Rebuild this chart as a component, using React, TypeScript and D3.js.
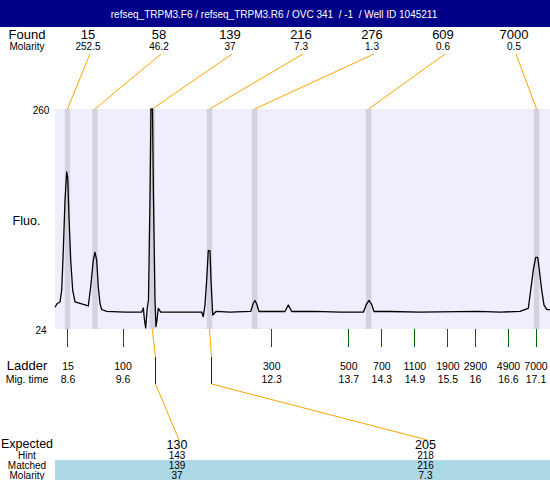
import React from "react";
import * as d3 from "d3";

const W = 550;
const H = 480;

const titleText = "refseq_TRPM3.F6 / refseq_TRPM3.R6 / OVC 341  / -1  / Well ID 1045211";

// Found peaks
const foundSizes = [15, 58, 139, 216, 276, 609, 7000];
const foundMolarity = [252.5, 46.2, 37, 7.3, 1.3, 0.6, 0.5];
const foundTimes = [8.59, 9.09, 10.13, 11.17, 11.99, 14.06, 17.11];

// Ladder
const ladderSizes = [15, 100, 300, 500, 700, 1100, 1900, 2900, 4900, 7000];
const ladderTimes = [8.6, 9.6, 12.3, 13.7, 14.3, 14.9, 15.5, 16, 16.6, 17.1];

// Expected table
const expectedSizes = [130, 205];
const hintSizes = [143, 218];
const matchedSizes = [139, 216];
const matchedMolarity = [37, 7.3];
const matchedTimes = [10.13, 11.17];
const hintTimes = [10.19, 11.2];

// Axes
const timeDomain = [8.364, 17.354];
const fluoDomain = [24, 260];

// Electropherogram trace
const traceTime = [
  8.364, 8.406, 8.455, 8.486, 8.515, 8.546, 8.576, 8.595, 8.618, 8.649,
  8.685, 8.727, 8.818, 8.969, 9.012, 9.06, 9.09, 9.121, 9.15, 9.181,
  9.212, 9.303, 9.635, 9.939, 9.968, 9.989, 10.011, 10.04, 10.062, 10.089,
  10.107, 10.135, 10.153, 10.18, 10.198, 10.216, 10.24, 10.284, 10.634, 11.028,
  11.057, 11.088, 11.119, 11.148, 11.179, 11.197, 11.228, 11.288, 11.542, 11.918,
  11.965, 11.996, 12.027, 12.069, 12.3, 12.541, 12.601, 12.663, 13.086, 13.54,
  13.967, 14.021, 14.067, 14.112, 14.158, 14.448, 14.993, 16.046, 16.446, 16.809,
  16.882, 16.96, 17.004, 17.051, 17.094, 17.131, 17.16, 17.203, 17.245, 17.294,
  17.354,
];
const traceFluo = [
  47.3, 51.4, 53.0, 65.8, 108.7, 162.4, 192.4, 186.0, 144.1, 98.0,
  65.8, 53.0, 51.4, 48.7, 69.1, 98.0, 106.3, 98.0, 69.1, 51.4,
  44.9, 42.8, 42.2, 42.2, 46.5, 33.7, 25.1, 46.5, 55.1, 162.4,
  260, 260, 162.4, 55.1, 26.5, 33.7, 46.2, 42.2, 42.2, 42.2,
  37.2, 49.7, 76.6, 108.0, 108.0, 76.6, 39.0, 42.8, 42.2, 42.8,
  51.6, 54.6, 50.8, 42.8, 42.8, 42.8, 49.7, 42.8, 42.8, 42.2,
  42.2, 50.8, 54.6, 50.8, 42.8, 42.8, 42.2, 43.0, 42.2, 42.8,
  44.4, 46.2, 65.8, 87.3, 100.9, 100.9, 87.3, 65.8, 49.7, 45.1,
  44.4,
];

const FONT = "'Liberation Sans', Arial, sans-serif";
const PLOT_L = 55;
const PLOT_R = 550;
const PLOT_T = 109;
const PLOT_B = 329;
const LABEL_X = 27;
const ORANGE = "#FFA500";

export default function App() {
  const x = d3.scaleLinear().domain(timeDomain).range([PLOT_L, PLOT_R]);
  const y = d3.scaleLinear().domain(fluoDomain).range([PLOT_B, PLOT_T]);
  const line = d3
    .line<number>()
    .x((_, i) => x(traceTime[i]))
    .y((_, i) => y(traceFluo[i]));
  const tracePath = line(traceTime) || "";
  const px = (v: number) => Math.floor(v) + 0.5;

  const foundCol = d3.scaleLinear().domain([0, 1]).range([88, 159]);
  const expCol = d3.scaleLinear().domain([0, 1]).range([177, 425.5]);
  const bandW = 5.5;

  return (
    <svg
      width={W}
      height={H}
      style={{ position: "absolute", left: 0, top: 0, display: "block", background: "#fff" }}
      fontFamily={FONT}
    >
      {/* Title bar */}
      <rect x={0} y={0} width={W} height={27} fill="#000088" />
      <text x={274} y={17.5} fill="#fff" fontSize={10} textAnchor="middle" style={{ whiteSpace: "pre" }}>
        {titleText}
      </text>

      {/* Found row */}
      <text x={LABEL_X} y={39} fontSize={13} textAnchor="middle">Found</text>
      <text x={LABEL_X} y={50} fontSize={10} textAnchor="middle">Molarity</text>
      {foundSizes.map((s, i) => (
        <g key={"f" + i}>
          <text x={foundCol(i)} y={39} fontSize={13} textAnchor="middle">{s}</text>
          <text x={foundCol(i)} y={50} fontSize={10} textAnchor="middle">{String(foundMolarity[i])}</text>
          <line
            x1={foundCol(i) + 2}
            y1={54}
            x2={x(foundTimes[i])}
            y2={PLOT_T}
            stroke={ORANGE}
            strokeWidth={1}
          />
        </g>
      ))}

      {/* Plot area */}
      <rect x={PLOT_L} y={PLOT_T} width={PLOT_R - PLOT_L} height={PLOT_B - PLOT_T} fill="#EEEEFC" />
      {foundTimes.map((t, i) => (
        <rect
          key={"b" + i}
          x={x(t) - bandW / 2}
          y={PLOT_T}
          width={bandW}
          height={PLOT_B - PLOT_T}
          fill="#D3D3E0"
        />
      ))}
      <path d={tracePath} fill="none" stroke="#000" strokeWidth={1.3} strokeLinejoin="round" />

      {/* Y labels */}
      <text x={41} y={113.5} fontSize={10} textAnchor="middle">{fluoDomain[1]}</text>
      <text x={41} y={333.5} fontSize={10} textAnchor="middle">{fluoDomain[0]}</text>
      <text x={26.5} y={225} fontSize={12.5} textAnchor="middle">Fluo.</text>

      {/* Ladder ticks */}
      {ladderTimes.map((t, i) => (
        <g key={"l" + i}>
          <line x1={px(x(t))} y1={PLOT_B} x2={px(x(t))} y2={347} stroke="#006800" strokeWidth={1} />
          <text x={x(t)} y={369.5} fontSize={10.5} textAnchor="middle">{ladderSizes[i]}</text>
          <text x={x(t)} y={383} fontSize={10.5} textAnchor="middle">{String(t)}</text>
        </g>
      ))}
      <text x={LABEL_X} y={370} fontSize={13} textAnchor="middle">Ladder</text>
      <text x={LABEL_X} y={382.5} fontSize={10.5} textAnchor="middle">Mig. time</text>

      {/* Matched connectors */}
      {matchedTimes.map((t, i) => (
        <g key={"m" + i}>
          <line x1={x(t)} y1={PLOT_B} x2={px(x(hintTimes[i]))} y2={357} stroke={ORANGE} strokeWidth={1} />
          <line
            x1={px(x(hintTimes[i]))}
            y1={357}
            x2={px(x(hintTimes[i]))}
            y2={384}
            stroke="#0000FF"
            strokeWidth={1}
          />
          <line x1={px(x(hintTimes[i]))} y1={384} x2={expCol(i) + 2} y2={440} stroke={ORANGE} strokeWidth={1} />
        </g>
      ))}

      {/* Expected table */}
      <rect x={PLOT_L} y={460} width={PLOT_R - PLOT_L} height={20} fill="#ADD8E6" />
      <text x={LABEL_X} y={448} fontSize={12.5} textAnchor="middle">Expected</text>
      <text x={LABEL_X} y={458.5} fontSize={10} textAnchor="middle">Hint</text>
      <text x={LABEL_X} y={469} fontSize={10} textAnchor="middle">Matched</text>
      <text x={LABEL_X} y={478.5} fontSize={10} textAnchor="middle">Molarity</text>
      {expectedSizes.map((s, i) => (
        <g key={"e" + i}>
          <text x={expCol(i)} y={448.5} fontSize={12.5} textAnchor="middle">{s}</text>
          <text x={expCol(i)} y={458.5} fontSize={10} textAnchor="middle">{hintSizes[i]}</text>
          <text x={expCol(i)} y={469} fontSize={10} textAnchor="middle">{matchedSizes[i]}</text>
          <text x={expCol(i)} y={478.5} fontSize={10} textAnchor="middle">{String(matchedMolarity[i])}</text>
        </g>
      ))}
    </svg>
  );
}
